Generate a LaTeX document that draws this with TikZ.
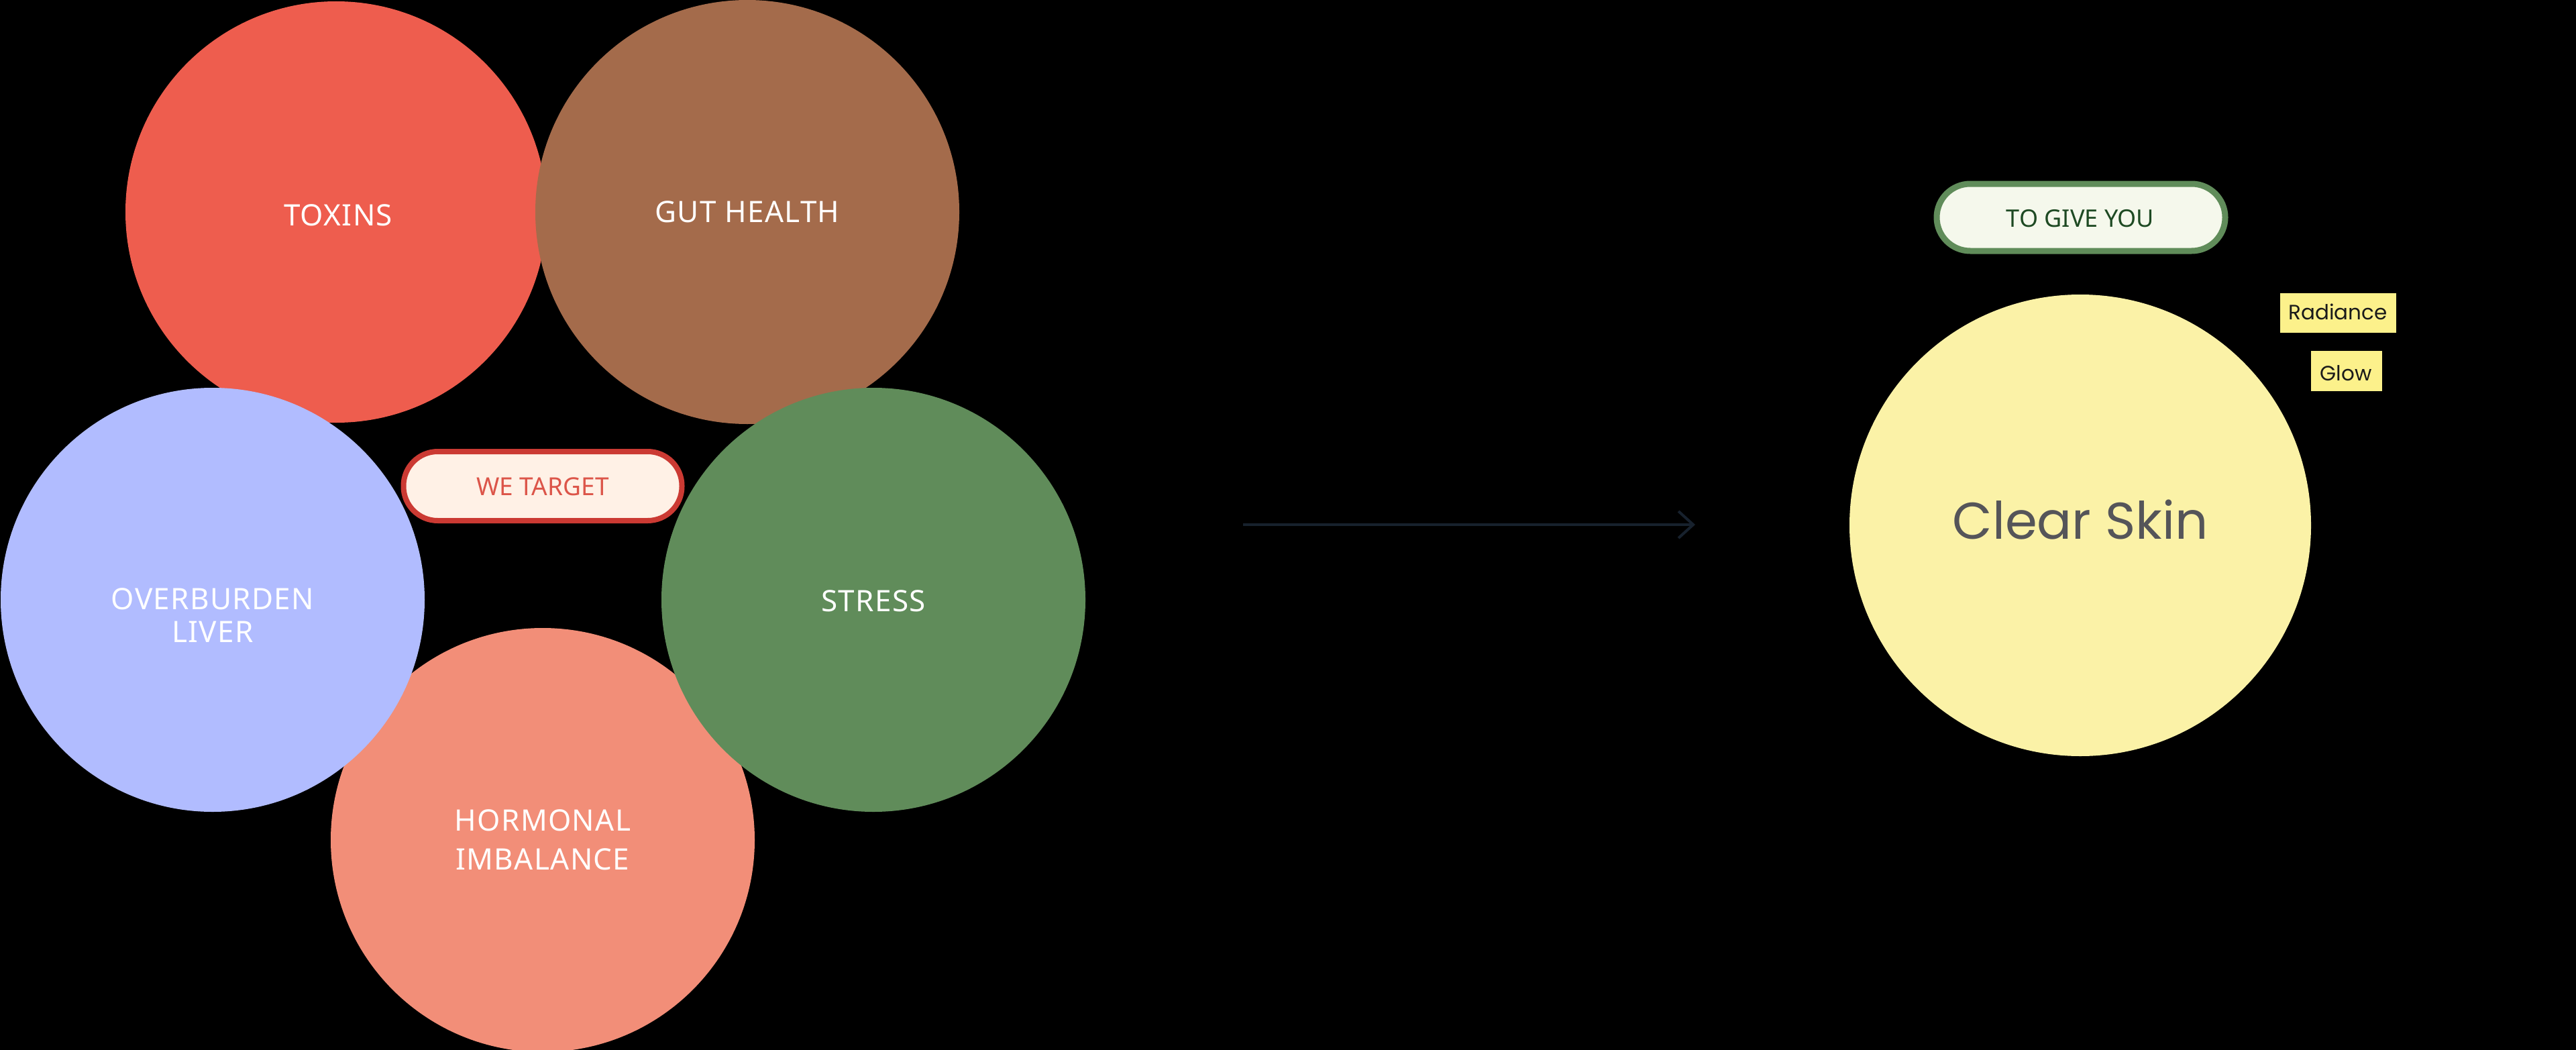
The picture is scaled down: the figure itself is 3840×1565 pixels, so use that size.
\documentclass[tikz,border=0pt]{standalone}
\usepackage{fontspec}
\usetikzlibrary{arrows.meta}
\newfontfamily\lblfont{Noto Sans}[LetterSpace=3]
\newfontfamily\pillfont{Noto Sans}
\newfontfamily\geofont{Poppins}
\definecolor{ctox}{HTML}{EE5D4E}
\definecolor{cgut}{HTML}{A46B4B}
\definecolor{cliver}{HTML}{B1BCFF}
\definecolor{cstress}{HTML}{608C5A}
\definecolor{chorm}{HTML}{F28E78}
\definecolor{wtfill}{HTML}{FFF1E6}
\definecolor{wtborder}{HTML}{CB3A33}
\definecolor{wttext}{HTML}{DC5549}
\definecolor{gyfill}{HTML}{F5F8EC}
\definecolor{gyborder}{HTML}{608C5A}
\definecolor{gytext}{HTML}{1E4A23}
\definecolor{cclear}{HTML}{FBF2A7}
\definecolor{cleartext}{HTML}{555559}
\definecolor{tagfill}{HTML}{FCF18B}
\definecolor{tagtext}{HTML}{1A1A1A}
\definecolor{arrowcol}{HTML}{17212D}
\begin{document}
\begin{tikzpicture}[x=1pt,y=-1pt,
  circ/.style={circle,inner sep=0pt,minimum size=#1},
  lbl/.style={text=white,inner sep=0pt,font=\lblfont\fontsize{44}{49}\selectfont,align=center},
  pill/.style={rounded corners=51pt,inner sep=0pt,font=\pillfont\fontsize{35}{40}\selectfont},
  tagbox/.style={fill=tagfill,inner sep=0pt,minimum height=59pt},
  tagtxt/.style={text=tagtext,font=\geofont\fontsize{31}{36}\selectfont,inner sep=0pt,anchor=base},
  arrowline/.style={draw=arrowcol,line width=4pt,-{Straight Barb[length=22pt,width=40pt,line width=4pt]}}
]
\fill[black] (0,0) rectangle (3840,1565);
\useasboundingbox (0,0) rectangle (3840,1565);
\clip (0,0) rectangle (3840,1565);

% cluster of circles
\node[circ=628,fill=ctox] (toxins) at (501,316) {};
\node[circ=632,fill=cgut] (gut) at (1114,316) {};
\node[circ=632,fill=chorm] (hormonal) at (809,1252) {};
\node[circ=632,fill=cliver] (liver) at (317,894) {};
\node[circ=632,fill=cstress] (stress) at (1302,894) {};

\node[lbl,anchor=base] (toxinsT) at (504,336) {TOXINS};
\node[lbl,anchor=base] (gutT) at (1114,331) {GUT HEALTH};
\node[lbl] (liverT) at (317,917) {OVERBURDEN\\LIVER};
\node[lbl,anchor=base] (stressT) at (1302,911) {STRESS};
\node[lbl,font=\lblfont\fontsize{44}{58}\selectfont] (hormT) at (809,1252) {HORMONAL\\IMBALANCE};

% we target pill
\node[pill,draw=wtborder,line width=8pt,fill=wtfill,minimum width=415pt,minimum height=103pt] (wetarget) at (809,724.5) {};
\node[text=wttext,font=\pillfont\fontsize{37}{42}\selectfont,inner sep=0pt,anchor=base] (wetargetT) at (809,738) {WE TARGET};

% arrow
\coordinate (arrowS) at (1853,782);
\coordinate (arrowE) at (2527,782);
\draw[arrowline] (arrowS) -- (arrowE);

% right side
\node[pill,draw=gyborder,line width=9pt,fill=gyfill,minimum width=430pt,minimum height=100pt,rounded corners=50pt] (giveyou) at (3102,324) {};
\node[text=gytext,font=\pillfont\fontsize{36}{40}\selectfont,inner sep=0pt,anchor=base] (giveyouT) at (3101,338) {TO GIVE YOU};

\node[circ=688,fill=cclear] (clear) at (3101,783) {};
\node[text=cleartext,font=\geofont\fontsize{77}{86}\selectfont,inner sep=0pt,anchor=base] (clearT) at (3101,803) {Clear Skin};

\node[tagbox,minimum width=173pt] (radiance) at (3485.5,466.5) {};
\node[tagtxt] (radianceT) at (3485,476) {Radiance};
\node[tagbox,minimum width=106pt,minimum height=60pt] (glow) at (3498,553) {};
\node[tagtxt] (glowT) at (3497,567) {Glow};
\end{tikzpicture}
\end{document}
